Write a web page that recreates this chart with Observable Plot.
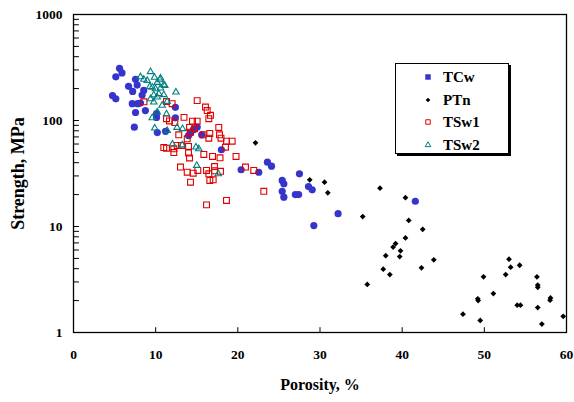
<!DOCTYPE html>
<html><head><meta charset="utf-8">
<script src="https://cdn.jsdelivr.net/npm/d3@7"></script>
<script src="https://cdn.jsdelivr.net/npm/@observablehq/plot@0.6"></script>
<style>
body{margin:0;background:#fff;}
#wrap{position:relative;width:574px;height:402px;font-family:"Liberation Serif","Times New Roman",serif;font-weight:bold;}
#legend{position:absolute;left:395px;top:63px;width:112px;height:89px;border:1px solid #000;box-shadow:2px 2px 0 #000;background:#fff;}
.row{position:absolute;left:0;width:112px;height:20px;}
.row svg{position:absolute;left:26px;top:4px;}
.row span{position:absolute;left:47px;top:1px;font-size:15px;line-height:18px;}
</style></head>
<body><div id="wrap"><div id="legend"></div></div>
<script>
const seriesNames = ["TCw", "PTn", "TSw1", "TSw2"];
const seriesColors = ["#3535cd", "#000000", "#e00000", "#008080"];
const xTicks = [0, 10, 20, 30, 40, 50, 60];
const yTicks = [1, 10, 100, 1000];

// TCw
const tcwPorosity = [5.6,5.9,5.15,7.55,7.75,6.7,7.2,8.55,8.35,4.75,5.15,7.15,7.8,8.15,8.75,7.55,10.1,12.4,12.4,7.4,10.2,11.2,14.2,15.05,14.6,18.0,20.4,22.55,23.6,24.1,27.5,25.4,25.6,25.4,25.6,27.0,27.4,28.6,29.05,32.2,29.25,41.6,15.6,10.1,14.0];
const tcwStrength = [311,281,258,245,216,210,188,192,174,172,160,144,144,146,124,119,116,133,106,86.5,77,79,76,86.5,82,53,34.3,32.5,40.4,37.1,31.4,27.2,25.3,21.5,18.9,20,20,23.8,22.2,13.2,10.2,17.3,73.3,107,72];
// PTn
const ptnPorosity = [22.15,28.75,30.55,30.95,37.3,40.4,35.2,40.8,42.5,40.4,39.2,38.9,39.8,39.7,38.0,43.85,37.7,38.5,42.35,35.75,53.0,53.2,54.3,52.6,49.9,56.4,56.5,56.5,51.1,49.2,49.25,58.05,58.0,54.0,54.4,56.5,47.4,49.5,57.0,59.6];
const ptnStrength = [61.6,27.6,26.2,20.8,23.0,18.7,12.4,11.4,9.4,7.8,6.9,6.4,5.9,5.2,5.3,4.85,3.96,3.52,4.08,2.84,4.92,4.13,4.31,3.52,3.35,3.35,2.67,2.8,2.33,2.08,2.0,2.12,2.02,1.81,1.81,1.72,1.49,1.30,1.20,1.42];
// TSw1
const tsw1Porosity = [8.58,11.32,12.0,15.05,16.06,16.27,16.67,16.47,13.45,11.32,11.68,14.48,15.05,12.33,14.12,14.73,17.68,14.24,15.78,16.59,17.77,12.81,13.84,16.47,17.95,18.62,19.31,18.5,12.62,12.21,13.14,14.0,10.99,11.32,12.21,14.0,15.86,16.92,17.83,19.78,14.12,13.02,13.84,14.57,15.13,16.19,17.16,17.89,17.16,16.47,16.59,17.0,14.24,16.19,18.62,20.93,21.94,23.16];
const tsw1Strength = [150,151,144,154,134,124,112,104,107,104,99,98.5,98.5,95.7,86,83.5,86,77.6,73.3,75.4,73.3,73.3,67.2,68.1,68.1,63.8,63.8,56,58.1,54.1,58.1,56.9,55.6,54.8,49.9,49.4,47.8,45.8,44.5,45.8,44.3,36.4,32.5,31.8,33.8,33.8,33.5,33.2,36.8,31.4,27.2,27.6,26.2,16.0,17.6,36.4,33.8,21.5];
// TSw2
const tsw2Porosity = [9.37,8.15,8.56,8.97,9.86,10.59,10.19,10.99,9.58,9.98,10.59,10.38,9.77,10.99,9.37,11.4,10.79,10.19,11.32,9.58,9.89,12.47,12.6,13.27,12.05,13.23,14.91,15.25,15.0,17.62,11.4,11.11,10.53,9.29,10.19,9.77];
const tsw2Strength = [288,258,244,238,255,251,228,217,206,199,202,179,174,175,160,151,139,120,115,106,84.6,185,85.9,83.5,59.8,58.7,56,53.9,37.6,31.4,80.5,214,242,209,166,149];

const yMinor = [];
for (const dec of [1, 10, 100]) for (let k = 2; k <= 10; k++) yMinor.push(k * dec);

const zip = (xs, ys) => xs.map((x, i) => ({x, y: ys[i]}));
const tcw = zip(tcwPorosity, tcwStrength);
const ptn = zip(ptnPorosity, ptnStrength);
const tsw1 = zip(tsw1Porosity, tsw1Strength);
const tsw2 = zip(tsw2Porosity, tsw2Strength);

const chart = Plot.plot({
  width: 574, height: 402,
  marginLeft: 73, marginRight: 8, marginTop: 14, marginBottom: 70,
  style: {fontFamily: "'Liberation Serif','Times New Roman',serif", fontWeight: "bold", fontSize: "13.5px", background: "white", color: "black"},
  x: {domain: [0, 60]},
  y: {type: "log", domain: [1, 1000]},
  marks: [
    Plot.axisX(xTicks, {tickSize: 0, tickPadding: 17, label: null, tickFormat: d => String(d)}),
    Plot.axisY(yTicks, {tickSize: 0, tickPadding: 11, label: null, tickFormat: d => String(d)}),
    Plot.ruleY(yMinor, {y: d => d, x1: 0, x2: 0.72, stroke: "black", strokeWidth: 1}),
    Plot.ruleX(xTicks.slice(1, -1), {x: d => d, y1: 1, y2: 1.11, stroke: "black", strokeWidth: 1}),
    Plot.frame({stroke: "black", strokeWidth: 1.3}),
    Plot.dot(tcw, {x: "x", y: "y", r: 3.6, fill: seriesColors[0], stroke: "none"}),
    Plot.dot(ptn, {x: "x", y: "y", r: 2.6, symbol: "diamond2", fill: seriesColors[1], stroke: "none"}),
    Plot.dot(tsw1, {x: "x", y: "y", r: 3.3, symbol: "square", fill: "none", stroke: seriesColors[2], strokeWidth: 1.1}),
    Plot.dot(tsw2, {x: "x", y: "y", r: 2.4, symbol: "triangle", fill: "none", stroke: seriesColors[3], strokeWidth: 1.1}),
    Plot.text(["Strength, MPa"], {frameAnchor: "left", rotate: -90, dx: -55, textAnchor: "middle", lineAnchor: "middle", fontSize: 18}),
    Plot.text(["Porosity, %"], {frameAnchor: "bottom", dy: 52, textAnchor: "middle", lineAnchor: "middle", fontSize: 16})
  ]
});
const wrap = document.getElementById("wrap");
wrap.insertBefore(chart, wrap.firstChild);

// legend
const legend = d3.select("#legend");
const symbols = [
  {type: d3.symbolSquare, size: 30, fill: seriesColors[0], stroke: "none"},
  {type: d3.symbolDiamond2, size: 14, fill: seriesColors[1], stroke: "none"},
  {type: d3.symbolSquare, size: 20, fill: "none", stroke: seriesColors[2]},
  {type: d3.symbolTriangle, size: 14, fill: "none", stroke: seriesColors[3]}
];
const rowTops = [3, 25.5, 48, 70.5];
seriesNames.forEach((name, i) => {
  const row = legend.append("div").attr("class", "row").style("top", rowTops[i] + "px");
  const svg = row.append("svg").attr("width", 12).attr("height", 12);
  svg.append("path").attr("transform", "translate(6,6)")
    .attr("d", d3.symbol(symbols[i].type, symbols[i].size)())
    .attr("fill", symbols[i].fill).attr("stroke", symbols[i].stroke).attr("stroke-width", 1);
  row.append("span").text(name);
});
</script></body></html>
